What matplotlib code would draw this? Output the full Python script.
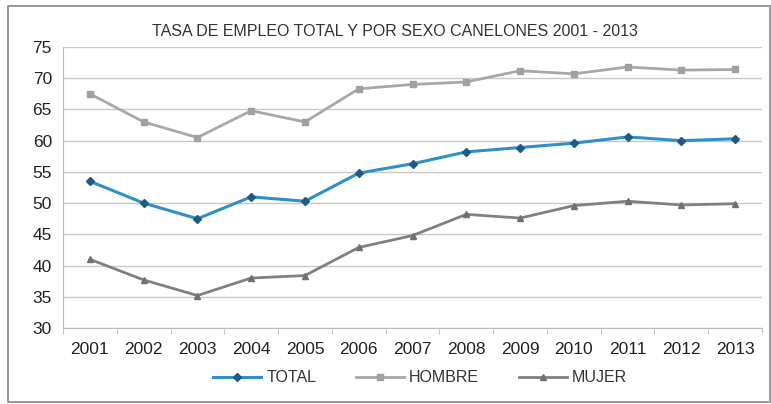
import matplotlib.pyplot as plt
from matplotlib.patches import Rectangle

# Data
YEARS = ["2001", "2002", "2003", "2004", "2005", "2006", "2007",
         "2008", "2009", "2010", "2011", "2012", "2013"]
TOTAL = [53.5, 50.0, 47.5, 51.0, 50.3, 54.8, 56.3, 58.2, 58.9, 59.6, 60.6, 60.0, 60.3]
HOMBRE = [67.5, 63.0, 60.5, 64.8, 63.0, 68.3, 69.0, 69.4, 71.2, 70.7, 71.8, 71.3, 71.4]
MUJER = [41.0, 37.7, 35.2, 38.0, 38.4, 42.9, 44.8, 48.2, 47.6, 49.6, 50.3, 49.7, 49.9]

plt.rcParams['font.family'] = ['Liberation Sans', 'DejaVu Sans']

fig = plt.figure(figsize=(7.71, 4.04), dpi=100)
ax = fig.add_axes([63 / 771, 1 - 328 / 404, (762 - 63) / 771, (328 - 47) / 404])

x = list(range(len(YEARS)))
ax.plot(x, TOTAL, color='#2f8fc8', lw=2.2, marker='D', markersize=4,
        markerfacecolor='#1d5a85', markeredgecolor='#1d5a85', label='TOTAL', zorder=4)
ax.plot(x, HOMBRE, color='#a8a8a8', lw=2.0, marker='s', markersize=5,
        markerfacecolor='#a0a0a0', markeredgecolor='#a0a0a0', label='HOMBRE', zorder=3)
ax.plot(x, MUJER, color='#808080', lw=2.0, marker='^', markersize=5,
        markerfacecolor='#707070', markeredgecolor='#707070', label='MUJER', zorder=3)

ax.set_xlim(-0.5, len(YEARS) - 0.5)
ax.set_ylim(30, 75)
ax.set_yticks(range(30, 76, 5))
ax.set_xticks(x)
ax.set_xticklabels(YEARS)
ax.set_xticks([i - 0.5 for i in range(len(YEARS) + 1)], minor=True)
ax.tick_params(axis='x', which='major', length=0, pad=10, labelsize=12.5, colors='#222222')
ax.tick_params(axis='x', which='minor', length=4, color='#bbbbbb', direction='out')
ax.tick_params(axis='y', length=0, pad=8, labelsize=12.5, colors='#222222')
ax.grid(axis='y', color='#c8c8c8', lw=1)
ax.set_axisbelow(True)
for s in ['top', 'right']:
    ax.spines[s].set_visible(False)
ax.spines['left'].set_color('#bbbbbb')
ax.spines['bottom'].set_color('#bbbbbb')

fig.text(395 / 771, 1 - 31 / 404, "TASA DE EMPLEO TOTAL Y POR SEXO CANELONES 2001 - 2013",
         ha='center', va='center', fontsize=11.5, color='#333333')

leg = fig.legend(loc='center', bbox_to_anchor=(420 / 771, 1 - 378 / 404), ncol=3,
                 frameon=False, fontsize=11.5, handlelength=3, columnspacing=2.5,
                 handletextpad=0.3)
for t in leg.get_texts():
    t.set_color('#333333')

fig.patches.append(Rectangle((8 / 771, 2 / 404), 762 / 771, 396 / 404,
                             transform=fig.transFigure, fill=False,
                             edgecolor='#888888', lw=1.2))

fig.savefig('out.png', dpi=100)
